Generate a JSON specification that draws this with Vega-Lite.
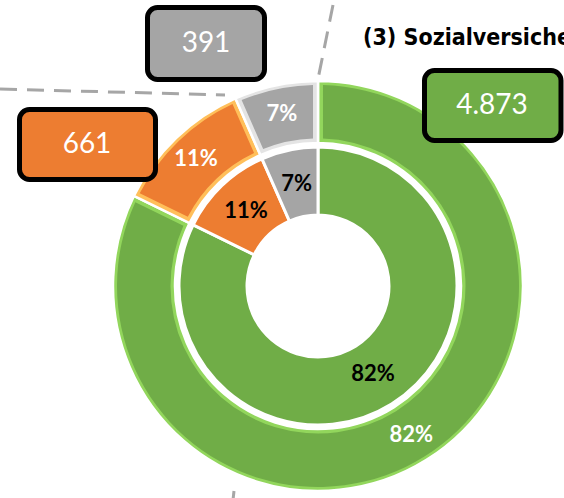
{
  "$schema": "https://vega.github.io/schema/vega-lite/v6.json",
  "width": 472,
  "height": 428,
  "autosize": {"type": "none"},
  "padding": {"left": 82, "top": 72, "right": 10, "bottom": 0},
  "background": "white",
  "config": {
    "view": {"stroke": null},
    "locale": {"number": {"decimal": ",", "thousands": ".", "grouping": [3], "currency": ["", "\u00a0€"]}}
  },
  "data": {
    "values": [
      {"gruppe": "Gruppe 1", "anzahl": 4873, "anteil": 0.82, "rang": 1},
      {"gruppe": "Gruppe 2", "anzahl": 661, "anteil": 0.11, "rang": 2},
      {"gruppe": "Gruppe 3", "anzahl": 391, "anteil": 0.07, "rang": 3}
    ]
  },
  "layer": [
    {
      "data": {"values": [{}]},
      "mark": {"type": "rule", "color": "#a6a6a6", "strokeWidth": 3, "strokeDash": [17, 10]},
      "encoding": {"x": {"value": -82}, "y": {"value": 17}, "x2": {"value": 143}, "y2": {"value": 23}}
    },
    {
      "data": {"values": [{}]},
      "mark": {"type": "rule", "color": "#a6a6a6", "strokeWidth": 3, "strokeDash": [17, 10]},
      "encoding": {"x": {"value": 251}, "y": {"value": -67}, "x2": {"value": 236}, "y2": {"value": 7}}
    },
    {
      "data": {"values": [{}]},
      "mark": {"type": "rule", "color": "#a6a6a6", "strokeWidth": 3, "strokeDash": [17, 10]},
      "encoding": {"x": {"value": 152}, "y": {"value": 419}, "x2": {"value": 151}, "y2": {"value": 428}}
    },
    {
      "mark": {"type": "arc", "outerRadius": 205, "innerRadius": 143, "stroke": "white", "strokeWidth": 2.5},
      "encoding": {
        "theta": {"field": "anzahl", "type": "quantitative", "stack": true},
        "order": {"field": "rang", "type": "ordinal"},
        "fill": {"field": "gruppe", "type": "nominal", "legend": null,
          "scale": {"domain": ["Gruppe 1", "Gruppe 2", "Gruppe 3"], "range": ["#92d65c", "#ffbf5a", "#e4e4e4"]}}
      }
    },
    {
      "mark": {"type": "arc", "outerRadius": 201, "innerRadius": 147.5, "padAngle": 0.04},
      "encoding": {
        "theta": {"field": "anzahl", "type": "quantitative", "stack": true},
        "order": {"field": "rang", "type": "ordinal"},
        "color": {"field": "gruppe", "type": "nominal", "legend": null,
          "scale": {"domain": ["Gruppe 1", "Gruppe 2", "Gruppe 3"], "range": ["#70ad47", "#ed7d31", "#a5a5a5"]}}
      }
    },
    {
      "mark": {"type": "arc", "outerRadius": 139, "innerRadius": 71, "stroke": "white", "strokeWidth": 3},
      "encoding": {
        "theta": {"field": "anzahl", "type": "quantitative", "stack": true},
        "order": {"field": "rang", "type": "ordinal"},
        "color": {"field": "gruppe", "type": "nominal", "legend": null}
      }
    },
    {
      "mark": {"type": "text", "radius": 104, "font": "Lato", "fontWeight": "bold", "fontSize": 22, "color": "#000000"},
      "encoding": {
        "theta": {"field": "anzahl", "type": "quantitative", "stack": true},
        "order": {"field": "rang", "type": "ordinal"},
        "text": {"field": "anteil", "type": "quantitative", "format": ".0%"}
      }
    },
    {
      "mark": {"type": "text", "radius": 176, "font": "Lato", "fontWeight": "bold", "fontSize": 22, "color": "#ffffff"},
      "encoding": {
        "theta": {"field": "anzahl", "type": "quantitative", "stack": true},
        "order": {"field": "rang", "type": "ordinal"},
        "text": {"field": "anteil", "type": "quantitative", "format": ".0%"}
      }
    },
    {
      "transform": [{"filter": "datum.gruppe === 'Gruppe 3'"}],
      "layer": [
        {
          "mark": {"type": "rect", "cornerRadius": 10, "stroke": "#000000", "strokeWidth": 5},
          "encoding": {"x": {"value": 65.5}, "x2": {"value": 182.5}, "y": {"value": -64.5}, "y2": {"value": 7.5},
            "color": {"field": "gruppe", "type": "nominal", "legend": null}}
        },
        {
          "mark": {"type": "text", "font": "Lato", "fontSize": 28, "color": "#ffffff", "align": "center", "baseline": "middle"},
          "encoding": {"x": {"value": 124}, "y": {"value": -28}, "text": {"field": "anzahl", "type": "quantitative", "format": ",d"}}
        }
      ]
    },
    {
      "transform": [{"filter": "datum.gruppe === 'Gruppe 2'"}],
      "layer": [
        {
          "mark": {"type": "rect", "cornerRadius": 10, "stroke": "#000000", "strokeWidth": 5},
          "encoding": {"x": {"value": -62.5}, "x2": {"value": 73.5}, "y": {"value": 37.5}, "y2": {"value": 107.5},
            "color": {"field": "gruppe", "type": "nominal", "legend": null}}
        },
        {
          "mark": {"type": "text", "font": "Lato", "fontSize": 28, "color": "#ffffff", "align": "center", "baseline": "middle"},
          "encoding": {"x": {"value": 5}, "y": {"value": 73}, "text": {"field": "anzahl", "type": "quantitative", "format": ",d"}}
        }
      ]
    },
    {
      "transform": [{"filter": "datum.gruppe === 'Gruppe 1'"}],
      "layer": [
        {
          "mark": {"type": "rect", "cornerRadius": 10, "stroke": "#000000", "strokeWidth": 5},
          "encoding": {"x": {"value": 342.5}, "x2": {"value": 479}, "y": {"value": -1.5}, "y2": {"value": 68.5},
            "color": {"field": "gruppe", "type": "nominal", "legend": null}}
        },
        {
          "mark": {"type": "text", "font": "Lato", "fontSize": 28, "color": "#ffffff", "align": "center", "baseline": "middle"},
          "encoding": {"x": {"value": 410}, "y": {"value": 34}, "text": {"field": "anzahl", "type": "quantitative", "format": ",d"}}
        }
      ]
    },
    {
      "data": {"values": [{"titel": "(3) Sozialversicherungspflichtig Beschäftigte"}]},
      "mark": {"type": "text", "font": "'Liberation Sans Narrow', 'Arial Narrow', 'DejaVu Sans Condensed', Roboto, sans-serif", "fontWeight": "bold", "fontSize": 23, "color": "#000000", "align": "left", "baseline": "alphabetic"},
      "encoding": {"x": {"value": 281}, "y": {"value": -27}, "text": {"field": "titel", "type": "nominal"}}
    }
  ]
}
